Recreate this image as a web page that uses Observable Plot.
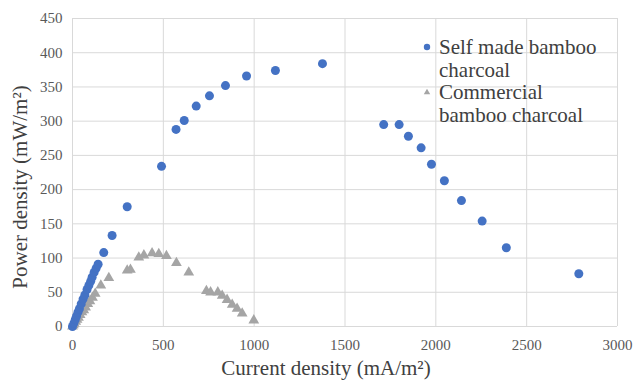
<!DOCTYPE html>
<html>
<head>
<meta charset="utf-8">
<script src="https://cdn.jsdelivr.net/npm/d3@7"></script>
<script src="https://cdn.jsdelivr.net/npm/@observablehq/plot@0.6"></script>
<style>
  body { margin: 0; background: #fff; }
  #wrap { position: relative; width: 634px; height: 381px; font-family: 'Liberation Serif', serif; }
  #wrap svg { position: absolute; left: 0; top: 0; }
  #wrap svg text { font-family: 'Liberation Serif', serif; }
  .lbl { position: absolute; color: #404040; font-family: 'Liberation Serif', serif; font-size: 21px; white-space: nowrap; line-height: 22.5px; }
  #legend { position: absolute; left: 419px; top: 36px; }
  #legend .row { position: relative; padding-left: 20px; }
</style>
</head>
<body>
<div id="wrap"></div>
<script>
// Self made bamboo charcoal
const selfX = [0, 8, 15, 22, 30, 38, 48, 58, 68, 80, 90, 100, 108, 119, 130, 141, 172, 218, 301, 490, 570, 615, 681, 754, 842, 958, 1117, 1376, 1713, 1798, 1849, 1919, 1976, 2047, 2141, 2255, 2388, 2787];
const selfY = [0, 5, 10, 15, 21, 26, 33, 40, 46, 54, 60, 66, 72, 79, 85, 91, 108, 133, 175, 234, 288, 301, 322, 337, 352, 366, 374, 384, 295, 295, 278, 261, 237, 213, 184, 154, 115, 77];
// Commercial bamboo charcoal
const commX = [0, 5, 10, 18, 25, 33, 42, 52, 62, 72, 84, 96, 110, 125, 156, 200, 301, 319, 365, 393, 438, 475, 517, 572, 640, 737, 760, 800, 824, 851, 879, 906, 934, 998];
const commY = [0, 2, 4, 7, 10, 13, 17, 21, 24, 28, 33, 37, 42, 48, 60, 71, 82, 83, 101, 104, 107, 106, 103, 93, 79, 52, 50, 50, 45, 39, 32, 26, 19, 9];

const xTicks = [0, 500, 1000, 1500, 2000, 2500, 3000];
const yTicks = [0, 50, 100, 150, 200, 250, 300, 350, 400, 450];
const seriesNames = ["Self made bamboo charcoal", "Commercial bamboo charcoal"];
const xTitle = "Current density (mA/m²)";
const yTitle = "Power density (mW/m²)";

const selfData = selfX.map((x, i) => ({x, y: selfY[i]}));
const commData = commX.map((x, i) => ({x, y: commY[i]}));

const blue = "#4472c4";
const gray = "#a5a5a5";
const serif = "Liberation Serif";

const chart = Plot.plot({
  width: 634,
  height: 381,
  marginLeft: 72,
  marginRight: 17,
  marginTop: 18,
  marginBottom: 55,
  style: { fontFamily: serif, fontSize: "15px", color: "#595959", background: "transparent" },
  x: { domain: [0, 3000], ticks: xTicks, label: null },
  y: { domain: [0, 450], ticks: yTicks, label: null },
  marks: [
    Plot.gridX(xTicks, { stroke: "#d9d9d9", strokeOpacity: 1 }),
    Plot.gridY(yTicks, { stroke: "#d9d9d9", strokeOpacity: 1 }),
    Plot.axisX(xTicks, { tickSize: 0, tickPadding: 13, fontSize: 15, fontFamily: serif, tickFormat: d3.format("d"), label: null }),
    Plot.axisY(yTicks, { tickSize: 0, tickPadding: 10, fontSize: 15, fontFamily: serif, tickFormat: d3.format("d"), label: null }),
    Plot.dot(commData, { x: "x", y: "y", symbol: "triangle", r: 4, fill: gray, stroke: "none" }),
    Plot.dot(selfData, { x: "x", y: "y", r: 4.5, fill: blue, stroke: "none" })
  ]
});

const wrap = document.getElementById("wrap");
wrap.appendChild(chart);

// Axis titles
const xt = document.createElement("div");
xt.className = "lbl";
xt.textContent = xTitle;
xt.style.left = "326px";
xt.style.top = "358px";
xt.style.lineHeight = "20px";
xt.style.transform = "translateX(-50%)";
wrap.appendChild(xt);

const yt = document.createElement("div");
yt.className = "lbl";
yt.textContent = yTitle;
yt.style.left = "20px";
yt.style.top = "187px";
yt.style.transform = "translate(-50%, -50%) rotate(-90deg)";
wrap.appendChild(yt);

// Legend
const legend = document.createElement("div");
legend.id = "legend";
legend.className = "lbl";
const rows = [
  { name: seriesNames[0], color: blue, shape: "circle", lines: ["Self made bamboo", "charcoal"] },
  { name: seriesNames[1], color: gray, shape: "triangle", lines: ["Commercial", "bamboo charcoal"] }
];
rows.forEach(r => {
  const row = document.createElement("div");
  row.className = "row";
  const sym = d3.create("svg").attr("width", 10).attr("height", 10)
    .style("position", "absolute").style("left", "3px").style("top", "6px");
  if (r.shape === "circle") sym.append("circle").attr("cx", 5).attr("cy", 5).attr("r", 3.2).attr("fill", r.color);
  else sym.append("path").attr("d", d3.symbol(d3.symbolTriangle, 18)()).attr("transform", "translate(5,5.5)").attr("fill", r.color);
  row.appendChild(sym.node());
  r.lines.forEach(t => { const d = document.createElement("div"); d.textContent = t; row.appendChild(d); });
  legend.appendChild(row);
});
wrap.appendChild(legend);
</script>
</body>
</html>
